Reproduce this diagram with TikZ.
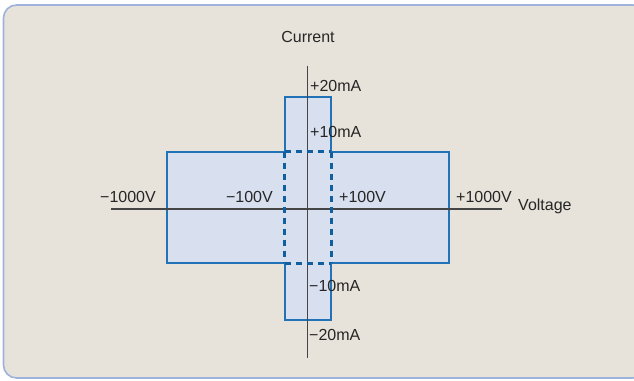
\documentclass[tikz,border=0pt]{standalone}
\usepackage{fontspec}
\setmainfont{Liberation Sans}
\definecolor{bg}{HTML}{E7E3DA}
\definecolor{frameblue}{HTML}{9DB3DC}
\definecolor{boxfill}{HTML}{D8DFEF}
\definecolor{boxline}{HTML}{2272B8}
\definecolor{dashline}{HTML}{10609F}
\definecolor{axisgray}{HTML}{454545}
\tikzset{
  lbl/.style={inner sep=0pt, text depth=0pt, font=\fontsize{16}{18}\selectfont, text=black!85},
  axisline/.style={draw=axisgray, line width=1.5pt},
  outline/.style={draw=boxline, line width=1.8pt, fill=boxfill, line join=miter},
  inner dash/.style={draw=dashline, line width=3pt, dash pattern=on 6pt off 5pt}
}
\begin{document}
\begin{tikzpicture}[x=1pt,y=-1pt]
\useasboundingbox (0,0) rectangle (634,380);
\begin{scope}
\clip (0,0) rectangle (634,380);
\draw[fill=bg, draw=frameblue, line width=1.6pt, rounded corners=13pt] (3.5,5) rectangle (646,378);
\end{scope}
% corners of the operating region
\coordinate (ia) at (284.7,151.7);
\coordinate (ib) at (331,151.7);
\coordinate (ic) at (331,263);
\coordinate (id) at (284.7,263);
% cross-shaped region
\path[outline] (284.7,97.3) -- (331,97.3) -- (ib) -- (449,151.7) -- (449,263)
  -- (ic) -- (331,320) -- (284.7,320) -- (id) -- (166.7,263)
  -- (166.7,151.7) -- (ia) -- cycle;
% axes
\coordinate (xl) at (111,209);
\coordinate (xr) at (502,209);
\coordinate (yt) at (307.7,65.7);
\coordinate (yb) at (307.7,357.7);
\draw[axisline] (xl) -- (xr);
\draw[axisline] (yt) -- (yb);
% dashed inner square
\draw[inner dash] (ia) -- (ib);
\draw[inner dash] (id) -- (ic);
\draw[inner dash] (ia) -- (id);
\draw[inner dash] (ib) -- (ic);
% labels
\node[lbl] (cur) at (308,37) {Current};
\node[lbl, anchor=west] (p20) at (310,86) {+20mA};
\node[lbl, anchor=west] (p10) at (310,132) {+10mA};
\node[lbl, anchor=west] (m10) at (309,286) {−10mA};
\node[lbl, anchor=west] (m20) at (309,335) {−20mA};
\node[lbl, anchor=east] (m1000) at (156,197) {−1000V};
\node[lbl, anchor=east] (m100) at (273,197) {−100V};
\node[lbl, anchor=west] (p100) at (339,197) {+100V};
\node[lbl, anchor=west] (p1000) at (456,197) {+1000V};
\node[lbl, anchor=west] (volt) at (518,205) {Voltage};
\end{tikzpicture}
\end{document}
